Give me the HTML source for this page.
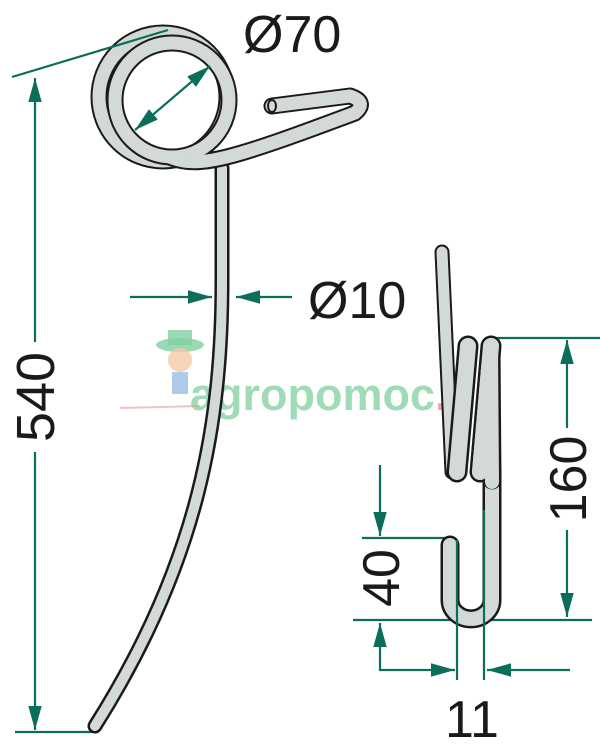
<!DOCTYPE html>
<html><head><meta charset="utf-8"><style>
html,body{margin:0;padding:0;background:#fff;width:600px;height:747px;overflow:hidden}
svg{display:block}
text{font-family:"Liberation Sans",sans-serif;fill:#1a1a1a}
</style></head><body>
<svg width="600" height="747" viewBox="0 0 600 747" xmlns="http://www.w3.org/2000/svg">
<defs>
<marker id="a" viewBox="0 0 10 10" refX="10" refY="5" markerWidth="11" markerHeight="11" orient="auto-start-reverse" markerUnits="strokeWidth"><path d="M0,2.2 L10,5 L0,7.8 z" fill="#0b6e5a"/></marker>
</defs>
<text x="190" y="410" font-size="45" font-weight="bold" style="fill:#7fd0a0;opacity:.75">agropomoc<tspan style="fill:#e88">.pl</tspan></text>
<line x1="120" y1="408" x2="200" y2="406" stroke="#e99" stroke-width="2" opacity=".6"/>
<ellipse cx="180" cy="345" rx="24" ry="7" fill="#7fd0a0" opacity=".8"/>
<rect x="168" y="330" width="24" height="15" fill="#7fd0a0" opacity=".8"/>
<circle cx="180" cy="360" r="12" fill="#f5c9a8" opacity=".8"/>
<rect x="172" y="372" width="16" height="22" fill="#8fb3e0" opacity=".7"/>
<g stroke="#0b6e5a" stroke-width="2.2" fill="none">
<line x1="15" y1="732" x2="92" y2="732"/>
<line x1="35" y1="78" x2="35" y2="342" marker-start="url(#a)"/>
<line x1="35" y1="452" x2="35" y2="730" marker-end="url(#a)"/>
<line x1="130" y1="297" x2="212" y2="297" marker-end="url(#a)"/>
<line x1="292" y1="297" x2="236" y2="297" marker-end="url(#a)"/>
<line x1="488" y1="338" x2="600" y2="338"/>
<line x1="567" y1="340" x2="567" y2="428" marker-start="url(#a)"/>
<line x1="567" y1="530" x2="567" y2="617" marker-end="url(#a)"/>
<line x1="353" y1="620" x2="592" y2="620"/>
<line x1="362" y1="538" x2="455" y2="538"/>
<line x1="380" y1="465" x2="380" y2="536" marker-end="url(#a)"/>
<polyline points="380,623 380,670 455,670" marker-start="url(#a)" marker-end="url(#a)"/>
<line x1="570" y1="670" x2="487" y2="670" marker-end="url(#a)"/>
</g>
<g fill="none" stroke-linecap="round" stroke-linejoin="round">
<circle cx="163" cy="97" r="64" stroke="#1a1a1a" stroke-width="17"/>
<circle cx="163" cy="97" r="64" stroke="#d3d9d7" stroke-width="13"/>
<path d="M222 168 L222 280 C222 420 200 560 95 726" stroke="#1a1a1a" stroke-width="15"/>
<path d="M222 168 L222 280 C222 420 200 560 95 726" stroke="#d3d9d7" stroke-width="10"/>
<path d="M172 158 C200 168 230 160 355 113 Q368 102 350 96 L272 106" stroke="#1a1a1a" stroke-width="17"/>
<circle cx="172" cy="100" r="57" stroke="#1a1a1a" stroke-width="17"/>
<circle cx="172" cy="100" r="57" stroke="#d3d9d7" stroke-width="13"/>
<path d="M172 158 C200 168 230 160 355 113 Q368 102 350 96 L272 106" stroke="#d3d9d7" stroke-width="13"/>
<ellipse cx="272" cy="106" rx="4" ry="6" fill="#d3d9d7" stroke="#1a1a1a" stroke-width="2"/>
</g>
<line x1="12" y1="77" x2="168" y2="30" stroke="#0b6e5a" stroke-width="2.2"/>
<line x1="135" y1="130" x2="210" y2="66" stroke="#0b6e5a" stroke-width="2.2" marker-start="url(#a)" marker-end="url(#a)"/>
<g fill="none" stroke-linecap="round" stroke-linejoin="round">
<path d="M442 252 L452 472" stroke="#1a1a1a" stroke-width="15"/>
<path d="M442 252 L452 472" stroke="#d3d9d7" stroke-width="11"/>
<path d="M492 470 L492 600 A20 18 0 0 1 450 600 L450 545" stroke="#1a1a1a" stroke-width="19"/>
<path d="M492 470 L492 600 A20 18 0 0 1 450 600 L450 545" stroke="#d3d9d7" stroke-width="14"/>
<path d="M468 346 L457 472" stroke="#1a1a1a" stroke-width="21"/>
<path d="M468 346 L457 472" stroke="#d3d9d7" stroke-width="16"/>
<path d="M491 346 L480 472" stroke="#1a1a1a" stroke-width="21"/>
<path d="M491 346 L480 472" stroke="#d3d9d7" stroke-width="16"/>
<path d="M491 350 L492 480" stroke="#1a1a1a" stroke-width="19"/>
<path d="M491 350 L492 482" stroke="#d3d9d7" stroke-width="14"/>
<path d="M491 346 L480 472" stroke="#d3d9d7" stroke-width="16"/>
</g>
<line x1="457" y1="540" x2="457" y2="680" stroke="#0b6e5a" stroke-width="2.2"/>
<line x1="484" y1="510" x2="484" y2="680" stroke="#0b6e5a" stroke-width="2.2"/>
<text x="243" y="52" font-size="52">Ø70</text>
<text x="308" y="318" font-size="52">Ø10</text>
<text x="472" y="737" font-size="52" text-anchor="middle">11</text>
<text transform="translate(54,397) rotate(-90)" font-size="54" text-anchor="middle">540</text>
<text transform="translate(586,479) rotate(-90)" font-size="52" text-anchor="middle">160</text>
<text transform="translate(399,578) rotate(-90)" font-size="52" text-anchor="middle">40</text>
</svg>
</body></html>
